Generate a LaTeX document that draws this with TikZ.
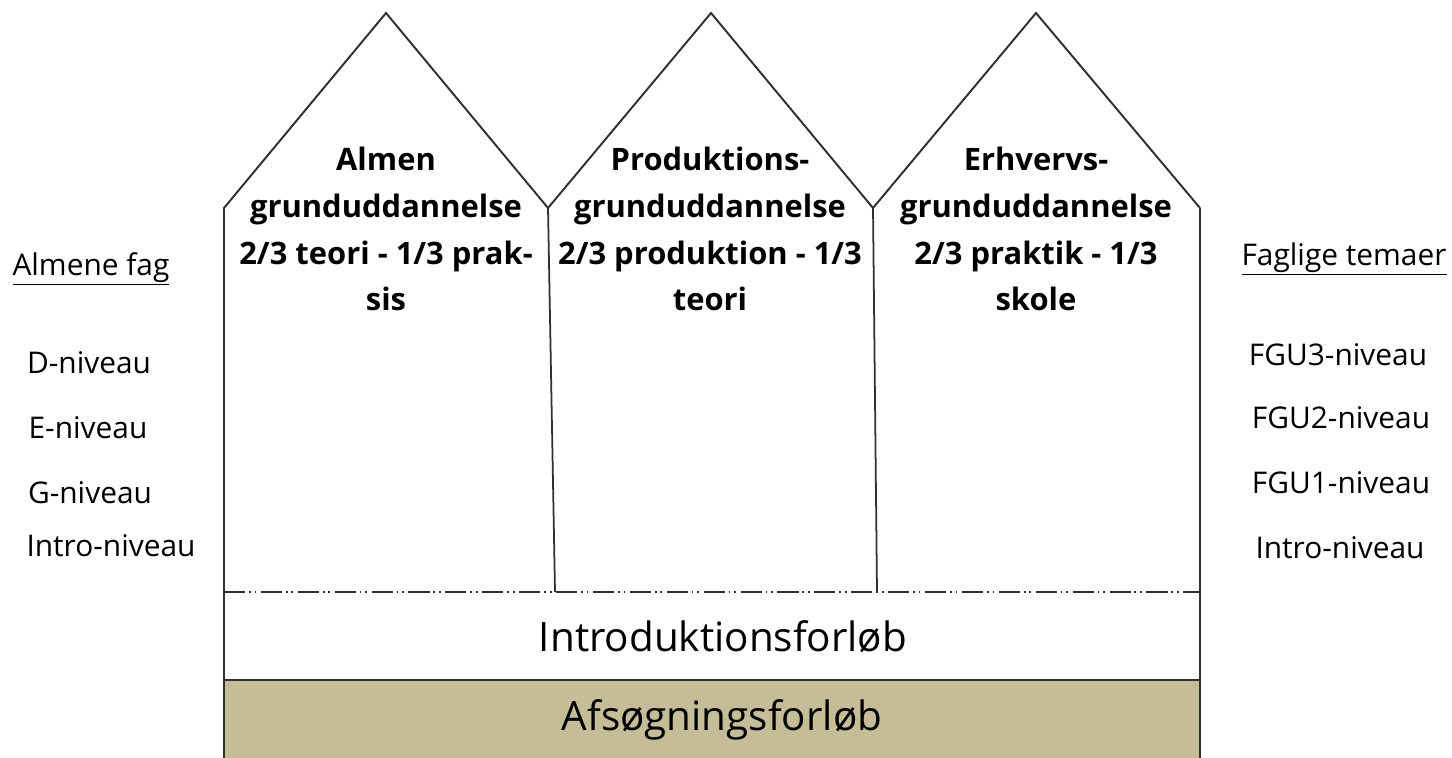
\documentclass[tikz,border=0pt]{standalone}
\usepackage{fontspec}
\setmainfont{Open Sans}
\usepackage{tikz}
\usetikzlibrary{positioning}

\definecolor{tanfill}{HTML}{C4BD97}
\definecolor{linegray}{HTML}{303030}

\begin{document}
\begin{tikzpicture}[
    x=0.02cm, y=-0.02cm,
    outline/.style={draw=linegray, line width=1.1pt, line join=miter},
    divider/.style={draw=linegray, line width=1pt},
    dashdot/.style={draw=linegray, line width=1.1pt, dash pattern=on 12pt off 2.2pt on 1pt off 2.2pt on 1pt off 2.6pt},
    rooftext/.style={align=center, font=\fontsize{17.6}{26.7}\selectfont\bfseries},
    sidetext/.style={font=\fontsize{17}{19}\selectfont},
    basetext/.style={font=\fontsize{23}{26}\selectfont}
]
\useasboundingbox (0,0) rectangle (1452,757);

% bottom bands
\fill[tanfill] (224,680) rectangle (1200,760);
\draw[outline] (224,680) -- (1200,680);
\draw[outline] (224,592) -- (224,760);
\draw[outline] (1200,208) -- (1200,760);

% the three houses
\draw[outline] (224,592) -- (224,208) -- (386,13) -- (548,208) -- (711,13) -- (873,208) -- (1036,13) -- (1200,208);
\draw[divider] (548,208) -- (555,592);
\draw[divider] (873,208) -- (877,592);
\draw[dashdot] (224,592) -- (1200,592);

% texts in the houses
\node[rooftext] (almen) at (386,229) {Almen\\grunduddannelse\\2/3 teori - 1/3 prak-\\sis};
\node[rooftext] (prod) at (710,229) {Produktions-\\grunduddannelse\\2/3 produktion - 1/3\\teori};
\node[rooftext] (erhv) at (1036,229) {Erhvervs-\\grunduddannelse\\2/3 praktik - 1/3\\skole};

\node[basetext] (intro) at (723,637) {Introduktionsforløb};
\node[basetext] (afs) at (722,720) {Afsøgningsforløb};

% left column
\node[sidetext] (almfag) at (91,269) {\underline{Almene fag}};
\node[sidetext] (dniv) at (89,363) {D-niveau};
\node[sidetext] (eniv) at (88,428) {E-niveau};
\node[sidetext] (gniv) at (90,493) {G-niveau};
\node[sidetext] (lintro) at (111,546) {Intro-niveau};

% right column
\node[sidetext] (fagtem) at (1344,259) {\underline{Faglige temaer}};
\node[sidetext] (fgu3) at (1338,355) {FGU3-niveau};
\node[sidetext] (fgu2) at (1341,418) {FGU2-niveau};
\node[sidetext] (fgu1) at (1341,483) {FGU1-niveau};
\node[sidetext] (rintro) at (1340,548) {Intro-niveau};

\end{tikzpicture}
\end{document}
